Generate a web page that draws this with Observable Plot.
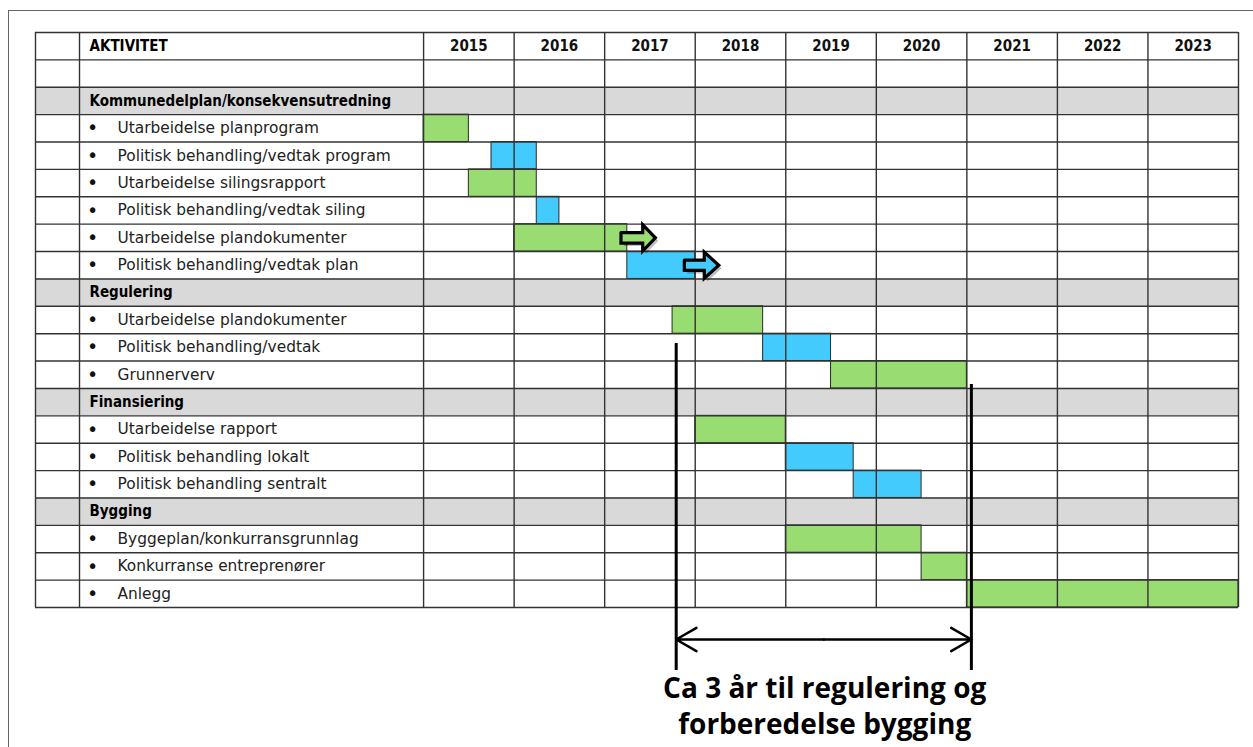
<!DOCTYPE html>
<html>
<head>
<meta charset="utf-8">
<script src="https://cdn.jsdelivr.net/npm/d3@7"></script>
<script src="https://cdn.jsdelivr.net/npm/@observablehq/plot@0.6"></script>
<style>
  html, body { margin: 0; padding: 0; background: #fff; }
  #wrap { position: relative; width: 1253px; height: 747px; overflow: hidden; }
  #frame { position: absolute; left: 8px; top: 10px; right: -2px; bottom: -2px;
           border-left: 1.5px solid #666; border-top: 1.5px solid #666; pointer-events: none; }
  svg { display: block; }
</style>
</head>
<body>
<div id="wrap"><div id="frame"></div></div>
<script>
// ---------- data ----------
const years = [2015, 2016, 2017, 2018, 2019, 2020, 2021, 2022, 2023];
const headerLabel = "AKTIVITET";
// row kinds: "section" (grey heading), "item" (bulleted activity), "blank"
const rowLabels = [
  "",
  "Kommunedelplan/konsekvensutredning",
  "Utarbeidelse planprogram",
  "Politisk behandling/vedtak program",
  "Utarbeidelse silingsrapport",
  "Politisk behandling/vedtak siling",
  "Utarbeidelse plandokumenter",
  "Politisk behandling/vedtak plan",
  "Regulering",
  "Utarbeidelse plandokumenter",
  "Politisk behandling/vedtak",
  "Grunnerverv",
  "Finansiering",
  "Utarbeidelse rapport",
  "Politisk behandling lokalt",
  "Politisk behandling sentralt",
  "Bygging",
  "Byggeplan/konkurransgrunnlag",
  "Konkurranse entreprenører",
  "Anlegg"
];
const rowKinds = [
  "blank", "section", "item", "item", "item", "item", "item", "item",
  "section", "item", "item", "item",
  "section", "item", "item", "item",
  "section", "item", "item", "item"
];
// bars: row index refers to rowLabels (0-based), start/end in years
const barRows   = [2, 3, 4, 5, 6, 7, 9, 10, 11, 13, 14, 15, 17, 18, 19];
const barStarts = [2015.0, 2015.75, 2015.5, 2016.25, 2016.0, 2017.25, 2017.75, 2018.75, 2019.5, 2018.0, 2019.0, 2019.75, 2019.0, 2020.5, 2021.0];
const barEnds   = [2015.5, 2016.25, 2016.25, 2016.5, 2017.25, 2018.0, 2018.75, 2019.5, 2021.0, 2019.0, 2019.75, 2020.5, 2020.5, 2021.0, 2024.0];
const barTypes  = ["work", "political", "work", "political", "work", "political", "work", "political", "work", "work", "political", "political", "work", "work", "work"];
// continuation arrows
const arrowRows   = [6, 7];
const arrowStarts = [2017.18, 2017.88];
const arrowHeads  = [2017.42, 2018.10];
const arrowTips   = [2017.56, 2018.26];
const arrowTypes  = ["work", "political"];
// annotation
const spanStart = 2017.79, spanEnd = 2021.05;
const annotationLines = ["Ca 3 år til regulering og", "forberedelse bygging"];

// ---------- layout helpers ----------
const colors = {work: "#98dc72", political: "#42cbfc"};
const NUM_COL = 0.486;   // width of first (narrow) column, in year units
const LABEL_COL = 3.80;  // width of activity column, in year units
const xTableStart = years[0] - LABEL_COL - NUM_COL;
const xLabelCol = years[0] - LABEL_COL;
const xEnd = years[years.length - 1] + 1;
const nRows = rowLabels.length + 1; // +1 header row
const rowOf = i => i + 1;           // data rows start below header

const rows = rowLabels.map((label, i) => ({label, kind: rowKinds[i], r: rowOf(i)}));
const sections = rows.filter(d => d.kind === "section");
const items = rows.filter(d => d.kind === "item");
const bars = barRows.map((r, i) => ({r: rowOf(r), x1: barStarts[i], x2: barEnds[i], type: barTypes[i]}));
const arrows = arrowRows.map((r, i) => {
  const y = rowOf(r) + 0.5, s = 0.19, h = 0.48;
  const x1 = arrowStarts[i], xh = arrowHeads[i], x2 = arrowTips[i];
  const pts = [[x1, y - s], [xh, y - s], [xh, y - h], [x2, y], [xh, y + h], [xh, y + s], [x1, y + s], [x1, y - s]];
  return {type: arrowTypes[i], pts: pts.map(([x, y]) => ({x, y}))};
});

const hLines = d3.range(0, nRows + 1);
const vLines = [xTableStart, xLabelCol, ...years, xEnd];

const font = "'DejaVu Sans', sans-serif";
const condensed = "'DejaVu Sans Condensed', 'DejaVu Sans', sans-serif";
const spanMid = (spanStart + spanEnd) / 2;
const spanY = 22.17;

const chart = Plot.plot({
  width: 1253,
  height: 747,
  x: {domain: [xTableStart, xEnd], range: [35, 1238], axis: null},
  y: {domain: [0, nRows], range: [32, 607], axis: null},
  style: {fontFamily: font, background: "transparent", overflow: "visible"},
  marks: [
    // section row shading
    Plot.rect(sections, {x1: xTableStart, x2: xEnd, y1: "r", y2: d => d.r + 1, fill: "#d9d9d9"}),
    // bars
    Plot.rect(bars, {x1: "x1", x2: "x2", y1: "r", y2: d => d.r + 1, fill: d => colors[d.type], stroke: "#2a2a2a", strokeWidth: 1}),
    // grid
    Plot.ruleY(hLines, {x1: xTableStart, x2: xEnd, stroke: "#333", strokeWidth: 1.4}),
    Plot.ruleX(vLines, {y1: 0, y2: nRows, stroke: "#333", strokeWidth: 1.4}),
    // arrows (shadow, then body)
    ...arrows.map(a => Plot.line(a.pts, {x: "x", y: "y", fill: "#000", fillOpacity: 0.25, stroke: "none", dx: 3, dy: 3, curve: "linear"})),
    ...arrows.map(a => Plot.line(a.pts, {x: "x", y: "y", fill: colors[a.type], stroke: "#000", strokeWidth: 3.2, strokeLinejoin: "miter", strokeMiterlimit: 10, curve: "linear"})),
    // header texts
    Plot.text([headerLabel], {x: xLabelCol, y: 0.5, text: d => d, textAnchor: "start", dx: 10, fontWeight: "bold", fontSize: 15, fill: "#000", fontFamily: condensed}),
    Plot.text(years, {x: d => d + 0.5, y: 0.5, text: d => String(d), fontWeight: "bold", fontSize: 15, fill: "#111", fontFamily: condensed}),
    // section labels
    Plot.text(sections, {x: xLabelCol, y: d => d.r + 0.5, text: "label", textAnchor: "start", dx: 10, fontWeight: "bold", fontSize: 15, fill: "#000", fontFamily: condensed}),
    // item bullets and labels
    Plot.text(items, {x: xLabelCol, y: d => d.r + 0.5, text: () => "•", textAnchor: "middle", dx: 13, fontSize: 19, fill: "#111", fontFamily: font}),
    Plot.text(items, {x: xLabelCol, y: d => d.r + 0.5, text: "label", textAnchor: "start", dx: 38, fontSize: 15.4, fill: "#222", fontFamily: font}),
    // annotation: vertical markers
    Plot.ruleX([{x: spanStart, y1: 11.36, y2: 23.3}, {x: spanEnd, y1: 12.86, y2: 23.3}], {x: "x", y1: "y1", y2: "y2", stroke: "#000", strokeWidth: 3}),
    // annotation: double-headed arrow
    Plot.arrow([{x1: spanMid, x2: spanStart}, {x1: spanMid, x2: spanEnd}], {x1: "x1", x2: "x2", y1: spanY, y2: spanY, stroke: "#000", strokeWidth: 2.5, headLength: 14, bend: 0}),
    // annotation text
    Plot.text(annotationLines, {x: spanMid + 0.01, y: (d, i) => 23.96 + i * 1.33, text: d => d, fontSize: 28, fontWeight: "bold", fill: "#000", fontFamily: "'Open Sans', Lato, sans-serif"})
  ]
});
document.getElementById("wrap").prepend(chart);
</script>
</body>
</html>
